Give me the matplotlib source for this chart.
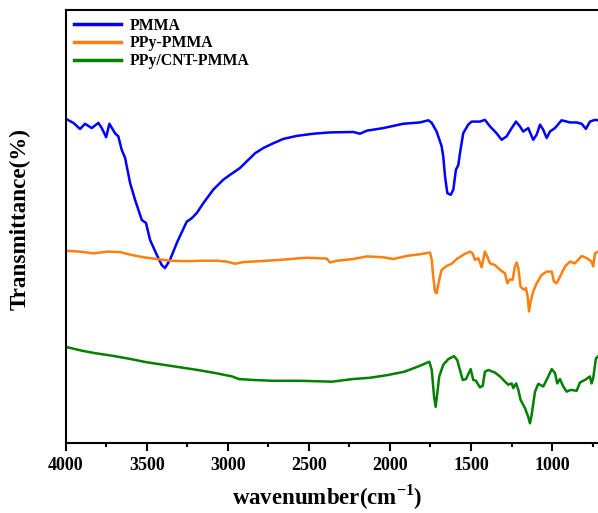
import numpy as np
import matplotlib
matplotlib.use('Agg')
import matplotlib.pyplot as plt
from matplotlib.ticker import MultipleLocator

plt.rcParams['font.family'] = ['Liberation Serif', 'DejaVu Serif']
plt.rcParams['font.weight'] = 'bold'
plt.rcParams['mathtext.fontset'] = 'custom'
plt.rcParams['mathtext.rm'] = 'Liberation Serif:bold'
plt.rcParams['mathtext.bf'] = 'Liberation Serif:bold'

# PMMA
wn_pmma = [3998, 3953, 3912, 3881, 3840, 3799, 3778, 3751, 3731, 3696, 3676, 3655,
           3634, 3603, 3573, 3531, 3505, 3480, 3439, 3408, 3388, 3357, 3315, 3254,
           3223, 3192, 3151, 3090, 3028, 2987, 2925, 2884, 2832, 2781, 2720, 2658,
           2575, 2473, 2370, 2226, 2185, 2143, 2041, 1918, 1815, 1763, 1742, 1712,
           1681, 1671, 1660, 1646, 1625, 1609, 1593, 1578, 1568, 1548, 1517, 1496,
           1445, 1414, 1383, 1342, 1311, 1280, 1249, 1222, 1198, 1178, 1147, 1116,
           1095, 1074, 1054, 1033, 1013, 982, 941, 889, 848, 817, 791, 766, 735, 716]
t_pmma = [74.8, 73.9, 72.5, 73.7, 72.7, 73.9, 72.7, 70.6, 73.7, 71.5, 70.8, 67.7,
          65.8, 60.0, 56.2, 51.5, 50.8, 46.9, 43.5, 41.1, 40.4, 42.3, 46.2, 51.1,
          51.9, 53.1, 55.4, 58.5, 60.8, 61.9, 63.5, 65.0, 66.9, 68.1, 69.2, 70.2,
          70.9, 71.4, 71.7, 71.8, 71.4, 72.1, 72.7, 73.7, 74.0, 74.5, 73.9, 71.9,
          68.5, 66.1, 61.5, 57.7, 57.3, 58.5, 63.1, 64.2, 66.9, 71.5, 73.5, 74.2,
          74.2, 74.6, 73.1, 71.5, 70.0, 70.8, 72.7, 74.2, 73.1, 71.9, 72.7, 70.0,
          71.2, 73.5, 72.3, 70.4, 71.9, 72.7, 74.5, 74.0, 74.0, 73.7, 72.5, 74.2, 74.6, 74.5]

# PPy-PMMA
wn_ppy = [3998, 3912, 3830, 3747, 3665, 3603, 3521, 3439, 3357, 3254, 3151, 3069,
          3007, 2956, 2905, 2802, 2678, 2514, 2390, 2370, 2328, 2226, 2143, 2041,
          1979, 1897, 1815, 1753, 1742, 1733, 1722, 1712, 1696, 1681, 1650, 1619,
          1588, 1537, 1506, 1490, 1475, 1455, 1434, 1414, 1400, 1383, 1352, 1321,
          1290, 1276, 1260, 1243, 1229, 1218, 1208, 1194, 1173, 1161, 1150, 1142,
          1132, 1116, 1095, 1064, 1033, 1002, 988, 972, 951, 920, 889, 859, 817,
          786, 756, 746, 735, 716]
t_ppy = [44.4, 44.2, 43.8, 44.2, 44.1, 43.5, 42.9, 42.5, 42.1, 42.0, 42.1, 42.1,
         41.9, 41.4, 41.8, 42.0, 42.3, 42.8, 42.6, 41.7, 42.1, 42.5, 43.1, 42.9,
         42.5, 43.2, 43.6, 44.0, 42.3, 38.4, 35.0, 34.6, 37.7, 40.0, 40.9, 41.4,
         42.5, 43.7, 44.2, 43.8, 42.3, 42.7, 40.6, 44.2, 43.1, 41.5, 41.1, 40.0,
         39.2, 36.9, 37.8, 37.7, 40.8, 41.7, 40.4, 36.1, 35.4, 35.8, 33.8, 30.4,
         32.7, 35.0, 36.9, 38.8, 39.6, 39.6, 37.3, 36.9, 38.4, 40.8, 41.9, 41.5, 43.2,
         42.7, 41.9, 40.8, 43.8, 44.2]

# PPy/CNT-PMMA
wn_cnt = [3997, 3907, 3823, 3716, 3610, 3504, 3398, 3292, 3186, 3079, 2973, 2931,
          2846, 2718, 2549, 2357, 2230, 2124, 2018, 1911, 1826, 1757, 1742, 1728,
          1718, 1708, 1696, 1671, 1640, 1605, 1585, 1568, 1551, 1531, 1502, 1486,
          1469, 1445, 1428, 1414, 1393, 1352, 1321, 1290, 1270, 1249, 1239, 1222,
          1208, 1194, 1167, 1147, 1136, 1126, 1105, 1085, 1054, 1023, 1002, 982,
          968, 951, 931, 910, 885, 848, 828, 797, 766, 756, 746, 729, 717]
t_cnt = [22.2, 21.4, 20.8, 20.2, 19.5, 18.7, 18.1, 17.5, 16.9, 16.2, 15.4, 14.8,
         14.6, 14.4, 14.4, 14.2, 14.8, 15.1, 15.7, 16.5, 17.7, 18.8, 16.9, 10.8,
         8.4, 11.5, 15.4, 18.1, 19.4, 20.1, 19.2, 16.9, 14.6, 14.8, 17.1, 14.6,
         14.4, 12.9, 13.2, 16.5, 16.9, 16.3, 15.4, 14.2, 13.5, 13.8, 12.7, 13.8,
         12.3, 10.0, 8.1, 6.1, 4.6, 6.5, 11.9, 13.7, 13.1, 15.4, 17.1, 16.2,
         13.8, 14.8, 13.1, 11.9, 12.3, 12.1, 14.0, 14.6, 15.4, 13.8, 15.0, 19.6, 20.0]

fig = plt.figure(figsize=(5.98, 5.13), dpi=100)
ax = fig.add_axes([0.110, 0.136, 0.892, 0.845])

ax.plot(wn_pmma, t_pmma, color='blue', lw=1.8, label='PMMA')
ax.plot(wn_ppy, t_ppy, color='#ff7f0e', lw=1.8, label='PPy-PMMA')
ax.plot(wn_cnt, t_cnt, color='green', lw=1.8, label='PPy/CNT-PMMA')

ax.set_xlim(4000, 709)
ax.set_ylim(0, 100)
ax.xaxis.set_major_locator(MultipleLocator(500))
ax.xaxis.set_minor_locator(MultipleLocator(250))
ax.tick_params(axis='x', which='major', length=6, width=1.5, labelsize=13, pad=4)
ax.tick_params(axis='x', which='minor', length=3, width=1.5)
ax.set_yticks([])
for s in ['left', 'bottom', 'top']:
    ax.spines[s].set_linewidth(1.5)
ax.spines['right'].set_visible(False)

ax.set_xlabel(r'wavenumber(cm$^{-1}$)', fontsize=16.5, fontweight='bold')
ax.xaxis.set_label_coords(0.49, -0.09)
ax.set_ylabel('Transmittance(%)', fontsize=16.7, fontweight='bold')
ax.yaxis.set_label_coords(-0.065, 0.518)

leg = ax.legend(loc='upper left', bbox_to_anchor=(0, 1), frameon=False,
                fontsize=11.3, handlelength=3.0, handletextpad=0.6,
                labelspacing=0.12, borderaxespad=0.2, borderpad=0.3)
for line in leg.get_lines():
    line.set_linewidth(2.5)

fig.savefig('out.png', dpi=100)
